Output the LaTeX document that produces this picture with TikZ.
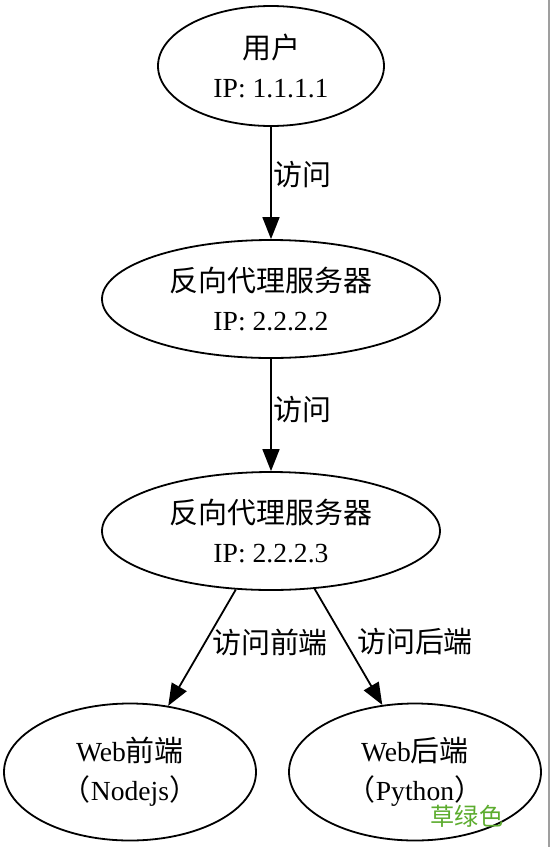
\documentclass[tikz,border=0pt]{standalone}
\usepackage{fontspec}
\setmainfont{Liberation Serif}
\newfontfamily\cjk[Scale=1.05]{Noto Sans CJK SC}
\usetikzlibrary{shapes.geometric,arrows.meta}
\definecolor{grassgreen}{RGB}{92,172,46}

\tikzset{
  host/.style={ellipse,draw,line width=0.9pt,align=center,inner sep=0pt},
  link/.style={-{Triangle[length=11pt,width=8.5pt]},line width=0.9pt},
}

\begin{document}
\begin{tikzpicture}[x=0.5pt,y=-0.5pt,font=\fontsize{13.8}{19.5}\selectfont]
\useasboundingbox[fill=white] (0,0) rectangle (550,847);
\draw[gray!75,line width=1pt] (548.5,0) -- (548.5,847);

\node[host,minimum width=113pt,minimum height=60pt] (user) at (271,66) {{\cjk 用户}\\IP: 1.1.1.1};
\node[host,minimum width=169pt,minimum height=59pt] (proxyA) at (271,299) {{\cjk 反向代理服务器}\\IP: 2.2.2.2};
\node[host,minimum width=169pt,minimum height=59pt] (proxyB) at (271,531) {{\cjk 反向代理服务器}\\IP: 2.2.2.3};
\node[host,minimum width=126pt,minimum height=68.5pt] (front) at (130,772) {Web{\cjk 前端}\\{\cjk （}Nodejs{\cjk ）}};
\node[host,minimum width=126pt,minimum height=68.5pt] (back) at (415,772) {Web{\cjk 后端}\\{\cjk （}Python{\cjk ）}};

\node (visitA) at (302,175) {\cjk 访问};
\node (visitB) at (302,410) {\cjk 访问};
\node (visitFront) at (270,642) {\cjk 访问前端};
\node (visitBack) at (415,642) {\cjk 访问后端};
\node[text=grassgreen,inner sep=0pt,font=\fontsize{11.5}{14}\selectfont] (note) at (467,816) {\cjk 草绿色};

\draw[link] (user) -- (proxyA);
\draw[link] (proxyA) -- (proxyB);
\draw[link] (proxyB.239.3) -- (front.60.4);
\draw[link] (proxyB.307.3) -- (back.116.6);
\end{tikzpicture}
\end{document}
